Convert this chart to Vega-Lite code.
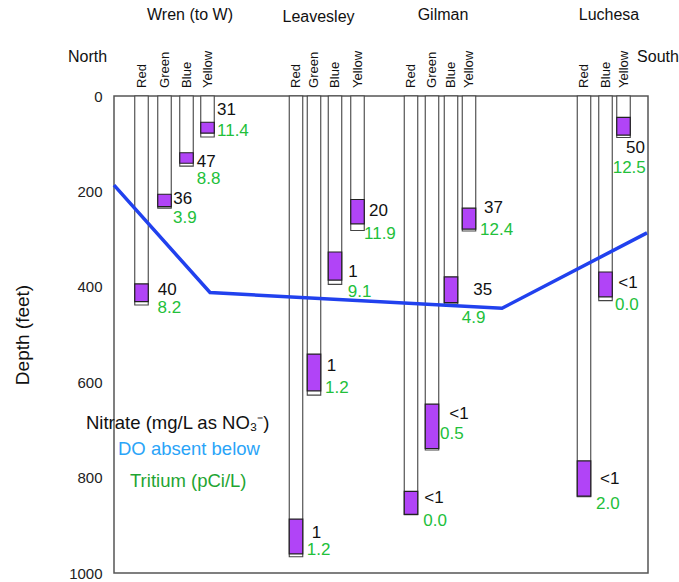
{
  "$schema": "https://vega.github.io/schema/vega-lite/v6.json",
  "width": 534,
  "height": 477,
  "autosize": {"type": "none"},
  "padding": {"left": 114, "top": 96, "right": 31, "bottom": 9},
  "background": "white",
  "config": {
    "view": {"stroke": "#555", "strokeWidth": 1.5},
    "font": "Liberation Sans",
    "text": {"font": "Liberation Sans"},
    "axisY": {"ticks": false, "domain": false, "grid": false, "labelFontSize": 15, "labelColor": "#222", "labelPadding": 12,
              "labelFont": "Liberation Sans", "titleFontSize": 19, "titleFontWeight": "normal", "titleColor": "#111",
              "titleFont": "Liberation Sans", "titlePadding": 36},
    "axisX": {"disable": true}
  },
  "datasets": {
    "wells": [
      {"site": "Wren", "well": "Red", "dist": 27.5, "bottom": 438, "scr_top": 394, "scr_bot": 431, "nitrate": "40", "tritium": "8.2", "n_dist": 43.7, "n_depth": 407, "t_dist": 43.5, "t_depth": 445},
      {"site": "Wren", "well": "Green", "dist": 50.5, "bottom": 235, "scr_top": 206, "scr_bot": 232, "nitrate": "36", "tritium": "3.9", "n_dist": 59.3, "n_depth": 216, "t_dist": 59, "t_depth": 256},
      {"site": "Wren", "well": "Blue", "dist": 72.5, "bottom": 147, "scr_top": 119, "scr_bot": 141, "nitrate": "47", "tritium": "8.8", "n_dist": 82.7, "n_depth": 138, "t_dist": 82.7, "t_depth": 175},
      {"site": "Wren", "well": "Yellow", "dist": 93.5, "bottom": 86, "scr_top": 55, "scr_bot": 78, "nitrate": "31", "tritium": "11.4", "n_dist": 103, "n_depth": 30, "t_dist": 103, "t_depth": 73},
      {"site": "Leavesley", "well": "Red", "dist": 182, "bottom": 966, "scr_top": 887, "scr_bot": 960, "nitrate": "1", "tritium": "1.2", "n_dist": 197.7, "n_depth": 916, "t_dist": 192.7, "t_depth": 952},
      {"site": "Leavesley", "well": "Green", "dist": 200, "bottom": 627, "scr_top": 541, "scr_bot": 618, "nitrate": "1", "tritium": "1.2", "n_dist": 212.7, "n_depth": 567, "t_dist": 211, "t_depth": 613},
      {"site": "Leavesley", "well": "Blue", "dist": 221, "bottom": 395, "scr_top": 327, "scr_bot": 386, "nitrate": "1", "tritium": "9.1", "n_dist": 234.3, "n_depth": 368, "t_dist": 233.7, "t_depth": 411},
      {"site": "Leavesley", "well": "Yellow", "dist": 243.5, "bottom": 282, "scr_top": 217, "scr_bot": 268, "nitrate": "20", "tritium": "11.9", "n_dist": 255, "n_depth": 242, "t_dist": 250, "t_depth": 290},
      {"site": "Gilman", "well": "Red", "dist": 297, "bottom": 878, "scr_top": 829, "scr_bot": 877, "nitrate": "<1", "tritium": "0.0", "n_dist": 310.3, "n_depth": 842, "t_dist": 309.3, "t_depth": 890},
      {"site": "Gilman", "well": "Green", "dist": 318, "bottom": 742, "scr_top": 646, "scr_bot": 739, "nitrate": "<1", "tritium": "0.5", "n_dist": 335.3, "n_depth": 667, "t_dist": 326, "t_depth": 709},
      {"site": "Gilman", "well": "Blue", "dist": 337, "bottom": 436, "scr_top": 379, "scr_bot": 433, "nitrate": "35", "tritium": "4.9", "n_dist": 359.3, "n_depth": 407, "t_dist": 347.7, "t_depth": 466},
      {"site": "Gilman", "well": "Yellow", "dist": 355, "bottom": 283, "scr_top": 235, "scr_bot": 279, "nitrate": "37", "tritium": "12.4", "n_dist": 370, "n_depth": 235, "t_dist": 366, "t_depth": 281},
      {"site": "Luchesa", "well": "Red", "dist": 470, "bottom": 840, "scr_top": 765, "scr_bot": 839, "nitrate": "<1", "tritium": "2.0", "n_dist": 486, "n_depth": 802, "t_dist": 482, "t_depth": 855},
      {"site": "Luchesa", "well": "Blue", "dist": 491.5, "bottom": 429, "scr_top": 369, "scr_bot": 421, "nitrate": "<1", "tritium": "0.0", "n_dist": 504.3, "n_depth": 391, "t_dist": 501, "t_depth": 438},
      {"site": "Luchesa", "well": "Yellow", "dist": 509.5, "bottom": 87, "scr_top": 45, "scr_bot": 82, "nitrate": "50", "tritium": "12.5", "n_dist": 512, "n_depth": 110, "t_dist": 498.7, "t_depth": 151}
    ],
    "do_line": [
      {"dist": 0, "depth": 187},
      {"dist": 96, "depth": 412},
      {"dist": 388, "depth": 445},
      {"dist": 533, "depth": 287}
    ],
    "headers": [
      {"label": "Wren (to W)", "dist": 76, "depth": -170},
      {"label": "Leavesley", "dist": 204.5, "depth": -166},
      {"label": "Gilman", "dist": 329, "depth": -170},
      {"label": "Luchesa", "dist": 495, "depth": -170},
      {"label": "North", "dist": -26.5, "depth": -82},
      {"label": "South", "dist": 544, "depth": -82}
    ],
    "key": [
      {"label": "Nitrate (mg/L as NO₃⁻)", "kind": "Nitrate", "dist": -28, "depth": 686},
      {"label": "DO absent below", "kind": "DO", "dist": 4, "depth": 741},
      {"label": "Tritium (pCi/L)", "kind": "Tritium", "dist": 16, "depth": 808}
    ]
  },
  "layer": [
    {
      "data": {"name": "wells"},
      "mark": {"type": "bar", "size": 13.5, "fill": "white", "stroke": "#444", "strokeWidth": 1.1},
      "encoding": {
        "x": {"field": "dist", "type": "quantitative", "scale": {"domain": [0, 534], "nice": false, "zero": false, "padding": 0}},
        "y": {"field": "bottom", "type": "quantitative", "title": "Depth (feet)",
              "scale": {"domain": [0, 1000], "reverse": true, "nice": false, "padding": 0},
              "axis": {"values": [0, 200, 400, 600, 800, 1000], "format": "d"}},
        "y2": {"datum": 0}
      }
    },
    {
      "data": {"name": "wells"},
      "mark": {"type": "bar", "size": 13.5, "fill": "#b144f7", "stroke": "#222", "strokeWidth": 1.2},
      "encoding": {
        "x": {"field": "dist", "type": "quantitative"},
        "y": {"field": "scr_bot", "type": "quantitative", "title": "Depth (feet)"},
        "y2": {"field": "scr_top"}
      }
    },
    {
      "data": {"name": "do_line"},
      "mark": {"type": "line", "color": "#2141ee", "strokeWidth": 3.5},
      "encoding": {
        "x": {"field": "dist", "type": "quantitative"},
        "y": {"field": "depth", "type": "quantitative", "title": "Depth (feet)"}
      }
    },
    {
      "data": {"name": "wells"},
      "mark": {"type": "text", "angle": 270, "align": "left", "baseline": "middle", "fontSize": 13, "color": "#111"},
      "encoding": {
        "x": {"field": "dist", "type": "quantitative"},
        "y": {"datum": -17, "type": "quantitative", "title": "Depth (feet)"},
        "text": {"field": "well"}
      }
    },
    {
      "data": {"name": "wells"},
      "mark": {"type": "text", "align": "left", "baseline": "middle", "fontSize": 17, "color": "#111"},
      "encoding": {
        "x": {"field": "n_dist", "type": "quantitative"},
        "y": {"field": "n_depth", "type": "quantitative", "title": "Depth (feet)"},
        "text": {"field": "nitrate"}
      }
    },
    {
      "data": {"name": "wells"},
      "mark": {"type": "text", "align": "left", "baseline": "middle", "fontSize": 17, "color": "#22c03a"},
      "encoding": {
        "x": {"field": "t_dist", "type": "quantitative"},
        "y": {"field": "t_depth", "type": "quantitative", "title": "Depth (feet)"},
        "text": {"field": "tritium"}
      }
    },
    {
      "data": {"name": "headers"},
      "mark": {"type": "text", "align": "center", "baseline": "middle", "fontSize": 16, "color": "#111"},
      "encoding": {
        "x": {"field": "dist", "type": "quantitative"},
        "y": {"field": "depth", "type": "quantitative", "title": "Depth (feet)"},
        "text": {"field": "label"}
      }
    },
    {
      "data": {"name": "key"},
      "mark": {"type": "text", "align": "left", "baseline": "middle", "fontSize": 18.5},
      "encoding": {
        "x": {"field": "dist", "type": "quantitative"},
        "y": {"field": "depth", "type": "quantitative", "title": "Depth (feet)"},
        "text": {"field": "label"},
        "color": {"field": "kind", "type": "nominal", "scale": {"domain": ["Nitrate", "DO", "Tritium"], "range": ["#111111", "#2aa4f8", "#1fa532"]}, "legend": null}
      }
    }
  ]
}
